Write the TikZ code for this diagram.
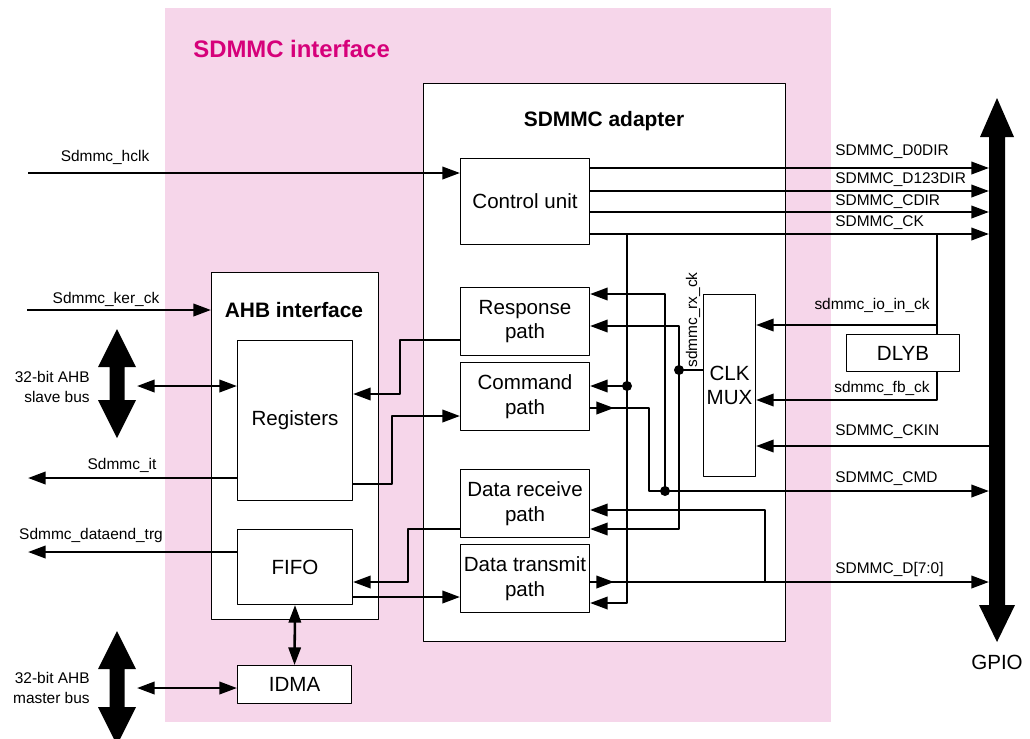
\documentclass[tikz,border=0pt]{standalone}
\usepackage{fontspec}
\setmainfont{Liberation Sans}
\usetikzlibrary{arrows.meta}
\definecolor{stpink}{RGB}{246,214,234}
\definecolor{stmagenta}{RGB}{214,0,122}
\tikzset{
  box/.style={draw, fill=white, line width=0.6pt, inner sep=0pt, align=center,
    font=\fontsize{11.7}{14}\selectfont},
  lbl/.style={inner sep=0pt, align=right, font=\fontsize{8.8}{11.3}\selectfont},
  ttl/.style={inner sep=0pt, font=\bfseries\fontsize{11.9}{14}\selectfont},
  sig/.style={line width=1.45pt},
  jdot/.style={circle, fill, inner sep=0pt, minimum size=0.2cm},
  >={Triangle[length=10pt,width=7pt]}
}
\begin{document}
\begin{tikzpicture}[x=0.02cm, y=-0.02cm, line join=round]
  \useasboundingbox (0,0) rectangle (1030,738);

  % SDMMC interface area
  \fill[stpink] (165,8) rectangle (831,722);
  \node[anchor=west, inner sep=0pt, text=stmagenta,
    font=\bfseries\fontsize{13.6}{16}\selectfont] (ifc) at (193,49) {SDMMC interface};

  % SDMMC adapter
  \node[box, anchor=north west, minimum width=7.24cm, minimum height=11.16cm] (adapter) at (423,83) {};
  \node[ttl] (adtitle) at (604,121) {SDMMC adapter};
  \node[box, anchor=north west, minimum width=2.58cm, minimum height=1.72cm] (ctrl) at (460,158) {Control unit};
  \node[box, anchor=north west, minimum width=2.58cm, minimum height=1.36cm] (resp) at (460,287) {Response\\path};
  \node[box, anchor=north west, minimum width=2.58cm, minimum height=1.36cm] (cmd) at (460,362) {Command\\path};
  \node[box, anchor=north west, minimum width=2.58cm, minimum height=1.36cm] (drx) at (460,469) {Data receive\\path};
  \node[box, anchor=north west, minimum width=2.58cm, minimum height=1.36cm] (dtx) at (460,544) {Data transmit\\path};
  \node[box, anchor=north west, minimum width=1.04cm, minimum height=3.64cm] (clkmux) at (703,294) {CLK\\MUX};
  \node[box, anchor=north west, minimum width=2.26cm, minimum height=0.74cm] (dlyb) at (846,334) {DLYB};

  % AHB interface
  \node[box, anchor=north west, minimum width=3.34cm, minimum height=6.94cm] (ahb) at (211,272) {};
  \node[ttl] (ahbtitle) at (294,310) {AHB interface};
  \node[box, anchor=north west, minimum width=2.3cm, minimum height=3.2cm] (regs) at (237,340) {Registers};
  \node[box, anchor=north west, minimum width=2.3cm, minimum height=1.5cm] (fifo) at (237,529) {FIFO};
  \node[box, anchor=north west, minimum width=2.28cm, minimum height=0.76cm] (idma) at (237,665) {IDMA};

  % Bus arrows
  \fill (117,329) -- (136,367) -- (124.5,367) -- (124.5,400) -- (136,400) -- (117,438)
    -- (98,400) -- (109.5,400) -- (109.5,367) -- (98,367) -- cycle;
  \fill (117,631) -- (136,669) -- (124.5,669) -- (124.5,707) -- (136,707) -- (117,745)
    -- (98,707) -- (109.5,707) -- (109.5,669) -- (98,669) -- cycle;
  \fill (997,98) -- (1014,137) -- (1005,137) -- (1005,605) -- (1015,605) -- (997,642)
    -- (979,605) -- (989,605) -- (989,137) -- (980,137) -- cycle;
  \node[box, draw=none, fill=none] (gpio) at (997,662) {GPIO};
  \coordinate (bus) at (989,0);

  % Control unit signals
  \coordinate (hclk) at (28,173);
  \draw[sig,->] (hclk) -- (ctrl.west |- hclk);
  \draw[sig,->] (ctrl.east |- 0,168) -- (bus |- 0,168);
  \draw[sig,->] (ctrl.east |- 0,191) -- (bus |- 0,191);
  \draw[sig,->] (ctrl.east |- 0,212) -- (bus |- 0,212);
  \draw[sig,->] (ctrl.east |- 0,234) -- (bus |- 0,234);

  % Clock to the paths
  \coordinate (cktapA) at (627,234);
  \coordinate (cktapB) at (937,234);
  \draw[sig,->] (cktapA) -- (627,603) -- (dtx.east |- 0,603);
  \node[jdot] (j1) at (627,386) {};
  \draw[sig,->] (j1.center) -- (cmd.east |- j1);

  % DLYB and CLK MUX
  \draw[sig] (cktapB) -- (cktapB |- dlyb.north);
  \draw[sig,->] (937,325) -- (clkmux.east |- 0,325);
  \draw[sig,->] (cktapB |- dlyb.south) -- (937,400) -- (clkmux.east |- 0,400);
  \draw[sig,->] (bus |- 0,446) -- (clkmux.east |- 0,446);
  \node[jdot] (j2) at (679,370) {};
  \draw[sig] (clkmux.west |- j2) -- (j2.center);
  \draw[sig,<->] (resp.east |- 0,326) -- (679,326) -- (679,529) -- (drx.east |- 0,529);

  % Command line
  \draw[sig,->] (cmd.east |- 0,408) -- ++(24,0);
  \draw[sig,->] (cmd.east |- 0,408) -- (649,408) -- (649,491) -- (bus |- 0,491);
  \node[jdot] (j3) at (665,491) {};
  \draw[sig,->] (j3.center) -- (665,294) -- (resp.east |- 0,294);

  % Data lines
  \draw[sig,->] (dtx.east |- 0,582) -- ++(24,0);
  \draw[sig,->] (dtx.east |- 0,582) -- (bus |- 0,582);
  \draw[sig,->] (765,582) -- (765,510) -- (drx.east |- 0,510);

  % Between AHB interface and adapter
  \draw[sig,->] (resp.west |- 0,340) -- (400,340) -- (400,394) -- (regs.east |- 0,394);
  \draw[sig,->] (regs.east |- 0,484) -- (392,484) -- (392,416) -- (cmd.west |- 0,416);
  \draw[sig,->] (drx.west |- 0,529) -- (408,529) -- (408,582) -- (fifo.east |- 0,582);
  \draw[sig,->] (fifo.east |- 0,597) -- (dtx.west |- 0,597);

  % Left side signals
  \coordinate (kerck) at (27,310);
  \draw[sig,->] (kerck) -- (ahb.west |- kerck);
  \draw[sig,<->] (137,386) -- (regs.west |- 0,386);
  \draw[sig,->] (regs.west |- 0,478) -- (28,478);
  \draw[sig,->] (fifo.west |- 0,552) -- (28,552);
  \draw[sig,<->] (137,688) -- (idma.west |- 0,688);
  \draw[sig,<->] (fifo.south) -- (idma.north);

  % Labels
  \node[lbl] (lhclk) at (105,157) {Sdmmc\_hclk};
  \node[lbl] (lkerck) at (106,299) {Sdmmc\_ker\_ck};
  \node[lbl, anchor=east] (lslave) at (90,387) {32-bit AHB\\slave bus};
  \node[lbl] (lit) at (122,465) {Sdmmc\_it};
  \node[lbl] (ldataend) at (91,535) {Sdmmc\_dataend\_trg};
  \node[lbl, anchor=east] (lmaster) at (90,688) {32-bit AHB\\master bus};
  \node[lbl, anchor=west] (ld0dir) at (835,152) {SDMMC\_D0DIR};
  \node[lbl, anchor=west] (ld123dir) at (835,180) {SDMMC\_D123DIR};
  \node[lbl, anchor=west] (lcdir) at (835,202) {SDMMC\_CDIR};
  \node[lbl, anchor=west] (lck) at (835,223) {SDMMC\_CK};
  \node[lbl, anchor=east] (lioin) at (930,305) {sdmmc\_io\_in\_ck};
  \node[lbl, anchor=east] (lfb) at (930,388) {sdmmc\_fb\_ck};
  \node[lbl, anchor=west] (lckin) at (835,432) {SDMMC\_CKIN};
  \node[lbl, anchor=west] (lcmd) at (835,479) {SDMMC\_CMD};
  \node[lbl, anchor=west] (ldata) at (835,569) {SDMMC\_D[7:0]};
  \node[lbl, rotate=90] (lrx) at (693,320) {sdmmc\_rx\_ck};
\end{tikzpicture}
\end{document}
